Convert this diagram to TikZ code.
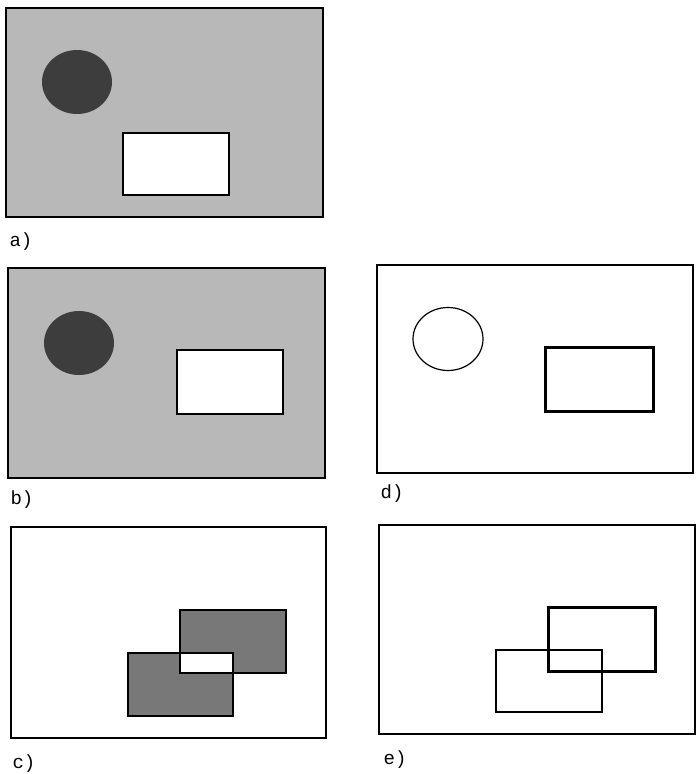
\documentclass[tikz,border=0pt]{standalone}
\usepackage{fontspec}
\setmonofont{Liberation Mono}
\usepackage{xcolor}
\usetikzlibrary{positioning}

\definecolor{screen}{gray}{0.72}
\definecolor{ink}{gray}{0.24}
\definecolor{midtone}{gray}{0.47}

\begin{document}
\begin{tikzpicture}[
  x=1pt, y=-1pt,
  frame/.style={draw, line width=1.2pt},
  hole/.style={draw, fill=white, line width=1.5pt},
  blob/.style={fill=ink},
  ring/.style={draw, line width=1.2pt},
  thinbox/.style={draw, line width=1.2pt},
  fatbox/.style={draw, line width=3pt},
  lbl/.style={font=\ttfamily\fontsize{19}{22}\selectfont, inner sep=0pt}
]
\useasboundingbox (0,0) rectangle (697,774);

% a)
\draw[frame, fill=screen] (6,8) rectangle (323,217);
\fill[blob] (77,82) ellipse [x radius=35, y radius=32];
\draw[hole] (123,133) rectangle (229,195);
\node[lbl] (la) at (21,242) {a)};

% b)
\draw[frame, fill=screen] (8,268) rectangle (325,478);
\fill[blob] (79,343) ellipse [x radius=35, y radius=32];
\draw[hole] (177,350) rectangle (283,414);
\node[lbl] (lb) at (22,500) {b)};

% c)
\draw[frame] (11,527) rectangle (326,738);
\fill[midtone] (128,653) rectangle (233,716);
\fill[midtone] (180,610) rectangle (286,673);
\fill[white] (180,653) rectangle (233,673);
\draw[thinbox] (128,653) rectangle (233,716);
\draw[thinbox] (180,610) rectangle (286,673);
\node[lbl] (lc) at (24,764) {c)};

% d)
\draw[frame] (377,265) rectangle (693,473);
\draw[ring] (448,339) ellipse [x radius=35, y radius=31.5];
\draw[fatbox] (545,347) rectangle (653,411);
\node[lbl] (ld) at (392,494) {d)};

% e)
\draw[frame] (379,525) rectangle (695,734);
\draw[thinbox] (496,650) rectangle (602,712);
\draw[fatbox] (548,607) rectangle (655,671);
\node[lbl] (le) at (395,760) {e)};
\end{tikzpicture}
\end{document}
